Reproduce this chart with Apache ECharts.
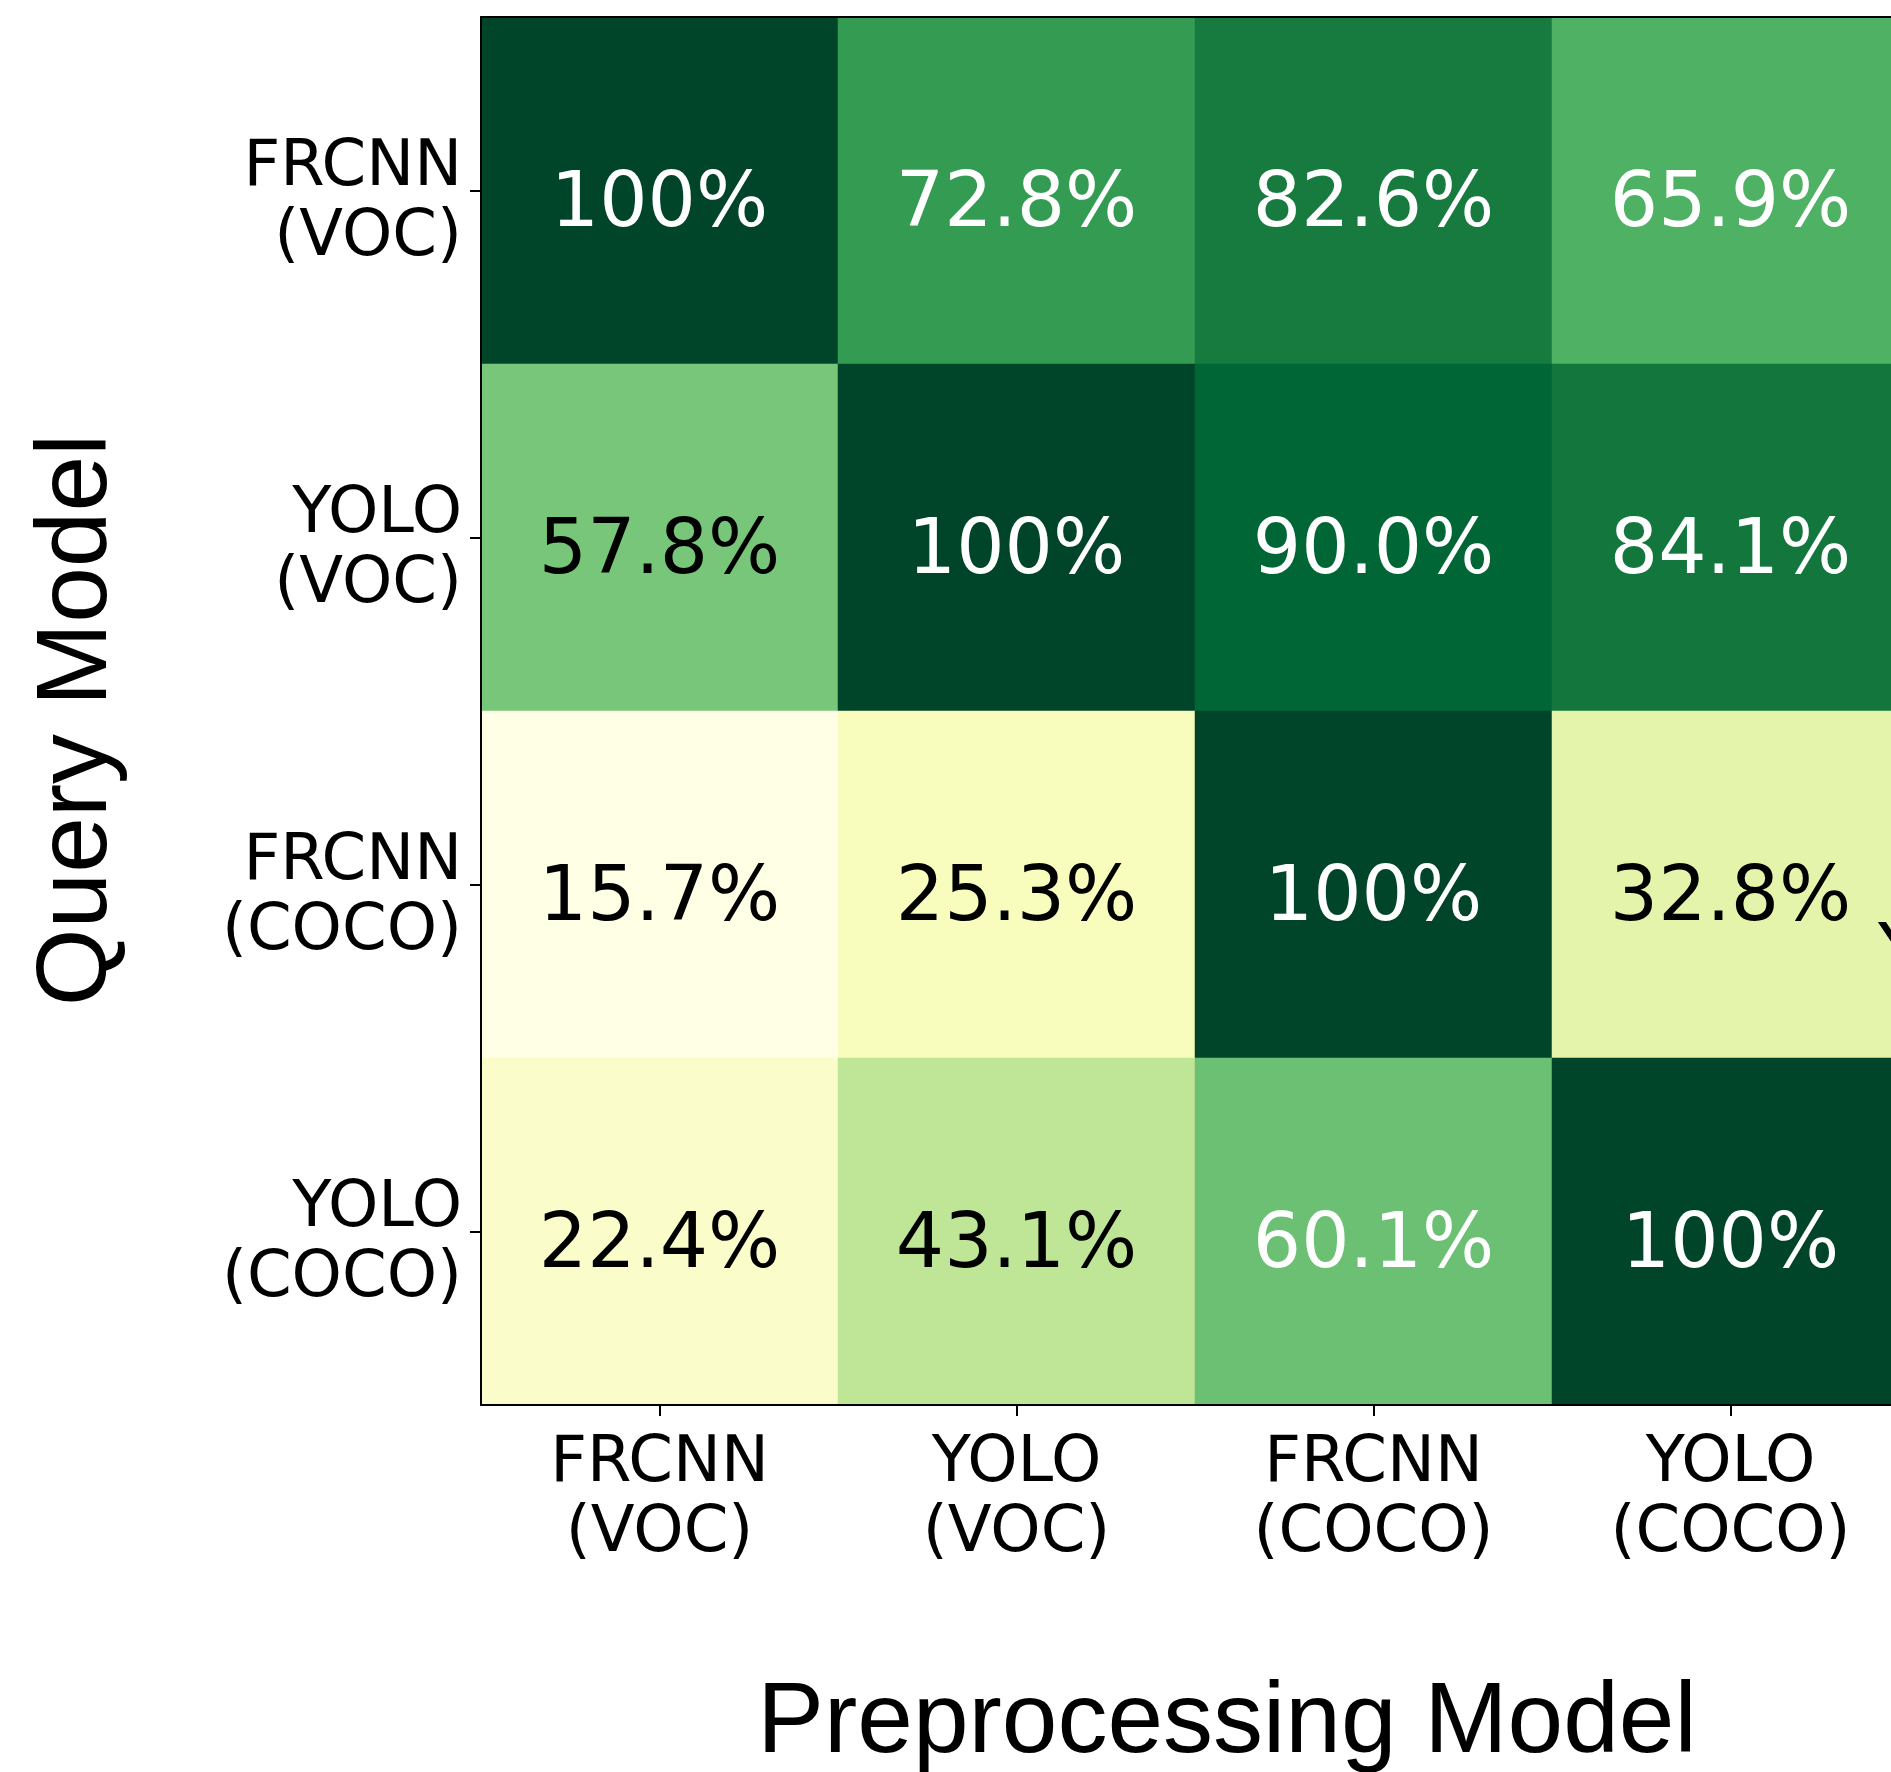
<!DOCTYPE html>
<html>
<head>
<meta charset="utf-8">
<script src="https://cdn.jsdelivr.net/npm/echarts@6/dist/echarts.min.js"></script>
<style>
  html, body { margin: 0; padding: 0; background: #fff; }
  #chart { width: 1891px; height: 1772px; }
</style>
</head>
<body>
<div id="chart"></div>
<script>
// Categories (columns: preprocessing model, rows: query model)
const preprocessingModels = ['FRCNN\n(VOC)', 'YOLO\n(VOC)', 'FRCNN\n(COCO)', 'YOLO\n(COCO)'];
const queryModels = ['FRCNN\n(VOC)', 'YOLO\n(VOC)', 'FRCNN\n(COCO)', 'YOLO\n(COCO)'];

// Values (%), one array per query-model row, ordered by preprocessing model
const queryFRCNN_VOC  = [100, 72.8, 82.6, 65.9];
const queryYOLO_VOC   = [57.8, 100, 90.0, 84.1];
const queryFRCNN_COCO = [15.7, 25.3, 100, 32.8];
const queryYOLO_COCO  = [22.4, 43.1, 60.1, 100];

const xTitle = 'Preprocessing Model';
const yTitle = 'Query Model';

// YlGn colormap stops
const ylGn = ['#ffffe5', '#f7fcb9', '#d9f0a3', '#addd8e', '#78c679', '#41ab5d', '#238443', '#006837', '#004529'];

const rows = [queryFRCNN_VOC, queryYOLO_VOC, queryFRCNN_COCO, queryYOLO_COCO];
const allVals = rows.flat();
const vmin = Math.min(...allVals);
const vmax = Math.max(...allVals);
const whiteThreshold = 59;

const data = [];
rows.forEach((row, yi) => {
  row.forEach((v, xi) => {
    data.push({
      value: [xi, yi, v],
      label: { color: v >= whiteThreshold ? '#ffffff' : '#000000' }
    });
  });
});

const tickFont = 'DejaVu Sans';
const titleFont = '"Liberation Sans", Arial, Helvetica, sans-serif';

const chart = echarts.init(document.getElementById('chart'), null, { renderer: 'canvas' });
chart.setOption({
  animation: false,
  backgroundColor: '#ffffff',
  grid: { left: 481, top: 17, width: 1428, height: 1388, containLabel: false, outerBoundsMode: 'none' },
  xAxis: [{
    type: 'category',
    data: preprocessingModels,
    position: 'bottom',
    z: 10,
    axisLine: { show: true, lineStyle: { color: '#000', width: 2 } },
    axisTick: { show: true, alignWithLabel: true, length: 11, lineStyle: { color: '#000', width: 2 } },
    axisLabel: { fontFamily: tickFont, fontSize: 64, lineHeight: 70, color: '#000', margin: 24, align: 'center' },
    splitLine: { show: false }
  }, {
    type: 'category',
    data: preprocessingModels,
    position: 'top',
    z: 10,
    axisLine: { show: true, lineStyle: { color: '#000', width: 2 } },
    axisTick: { show: false },
    axisLabel: { show: false },
    splitLine: { show: false }
  }],
  yAxis: [{
    type: 'category',
    data: queryModels,
    inverse: true,
    position: 'left',
    z: 10,
    axisLine: { show: true, lineStyle: { color: '#000', width: 2 } },
    axisTick: { show: true, alignWithLabel: true, length: 11, lineStyle: { color: '#000', width: 2 } },
    axisLabel: {
      fontFamily: tickFont, fontSize: 64, lineHeight: 70, color: '#000', margin: 19, align: 'right',
      formatter: (v) => '{s| }\n' + v.split('\n').map(t => '{t|' + t + '}').join('\n'),
      rich: {
        s: { fontSize: 2, lineHeight: 26 },
        t: { fontFamily: tickFont, fontSize: 64, lineHeight: 70, color: '#000', align: 'right' }
      }
    },
    splitLine: { show: false }
  }],
  visualMap: {
    show: false,
    type: 'continuous',
    min: vmin,
    max: vmax,
    dimension: 2,
    inRange: { color: ylGn }
  },
  series: [{
    type: 'heatmap',
    xAxisIndex: 0,
    yAxisIndex: 0,
    data: data,
    itemStyle: { borderWidth: 0 },
    emphasis: { disabled: true },
    label: {
      show: true,
      fontFamily: tickFont,
      fontSize: 76,
      offset: [0, 16],
      formatter: (p) => {
        const v = p.value[2];
        return (v === 100 ? '100' : v.toFixed(1)) + '%';
      }
    }
  }],
  graphic: [
    {
      type: 'text',
      z: 100,
      x: 1227, y: 1724,
      style: { text: xTitle, font: '100px ' + titleFont, fill: '#000', align: 'center', verticalAlign: 'middle' }
    },
    {
      type: 'text',
      z: 100,
      x: 78, y: 720,
      rotation: Math.PI / 2,
      style: { text: yTitle, font: '100px ' + titleFont, fill: '#000', align: 'center', verticalAlign: 'middle' }
    },
    {
      type: 'text',
      z: 100,
      x: 1878, y: 958,
      style: { text: 'Y', font: '76px "DejaVu Sans"', fill: '#000', align: 'left', verticalAlign: 'middle' }
    }
  ]
});
</script>
</body>
</html>
